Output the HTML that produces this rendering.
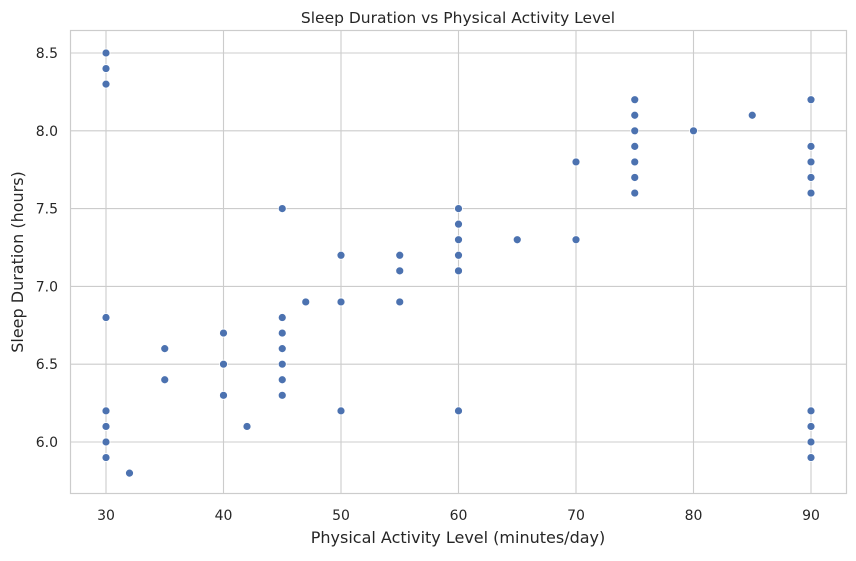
<!DOCTYPE html>
<html><head><meta charset="utf-8"><style>
body{margin:0;background:#fff;}
svg{font-family:"DejaVu Sans","Liberation Sans",sans-serif;}
</style></head><body>
<svg id="chart" width="856" height="556" xmlns="http://www.w3.org/2000/svg">
<rect x="0" y="0" width="856" height="556" fill="#fff"/>
<g id="grid"></g>
<rect x="70.5" y="30.5" width="776" height="463" fill="none" stroke="#cccccc" stroke-width="1.2"/>
<g id="ticks"></g>
<g id="points"></g>
<text x="458" y="23" text-anchor="middle" font-size="15.5" fill="#262626">Sleep Duration vs Physical Activity Level</text>
<text x="458" y="543" text-anchor="middle" font-size="16" fill="#262626">Physical Activity Level (minutes/day)</text>
<text x="23" y="262" text-anchor="middle" font-size="16" fill="#262626" transform="rotate(-90 23 262)">Sleep Duration (hours)</text>
</svg>
<script>
const xTicks=[30,40,50,60,70,80,90];
const yTicks=[6.0,6.5,7.0,7.5,8.0,8.5];
const activity=[30,30,30,30,30,30,30,30,32,35,35,40,40,40,42,45,45,45,45,45,45,45,47,50,50,50,55,55,55,60,60,60,60,60,60,65,70,70,75,75,75,75,75,75,75,80,85,90,90,90,90,90,90,90,90,90];
const sleep=[8.5,8.4,8.3,6.8,6.2,6.1,6.0,5.9,5.8,6.6,6.4,6.7,6.5,6.3,6.1,7.5,6.8,6.7,6.6,6.5,6.4,6.3,6.9,7.2,6.9,6.2,7.2,7.1,6.9,7.5,7.4,7.3,7.2,7.1,6.2,7.3,7.8,7.3,8.2,8.1,8.0,7.9,7.8,7.7,7.6,8.0,8.1,8.2,7.9,7.8,7.7,7.6,6.2,6.1,6.0,5.9];
const NS="http://www.w3.org/2000/svg";
function xs(v){return 106+(v-30)*11.75;}
function ys(v){return 442-(v-6.0)*155.6;}
const grid=document.getElementById('grid'),ticks=document.getElementById('ticks'),pts=document.getElementById('points');
function mk(tag,attrs,parent){const e=document.createElementNS(NS,tag);for(const k in attrs)e.setAttribute(k,attrs[k]);parent.appendChild(e);return e;}
xTicks.forEach(t=>{
 const l=mk('line',{x1:xs(t),x2:xs(t),y1:30,y2:493,stroke:'#cccccc','stroke-width':1.1},grid);
 
 
 const tx=mk('text',{x:xs(t),y:520,'text-anchor':'middle','font-size':14,fill:'#262626'},ticks);
 tx.textContent=t;
 
 
});
yTicks.forEach(t=>{
 const l=mk('line',{x1:70,x2:846,y1:ys(t),y2:ys(t),stroke:'#cccccc','stroke-width':1.1},grid);
 
 
 const tx=mk('text',{x:58,y:ys(t)+5,'text-anchor':'end','font-size':14,fill:'#262626'},ticks);
 tx.textContent=t.toFixed(1);
 
 
});
activity.forEach((a,i)=>{
 const c=mk('circle',{cx:xs(a),cy:ys(sleep[i]),r:4,fill:'#4c72b0',stroke:'#fff','stroke-width':0.8},pts);
 
 
});
</script>
</body></html>
